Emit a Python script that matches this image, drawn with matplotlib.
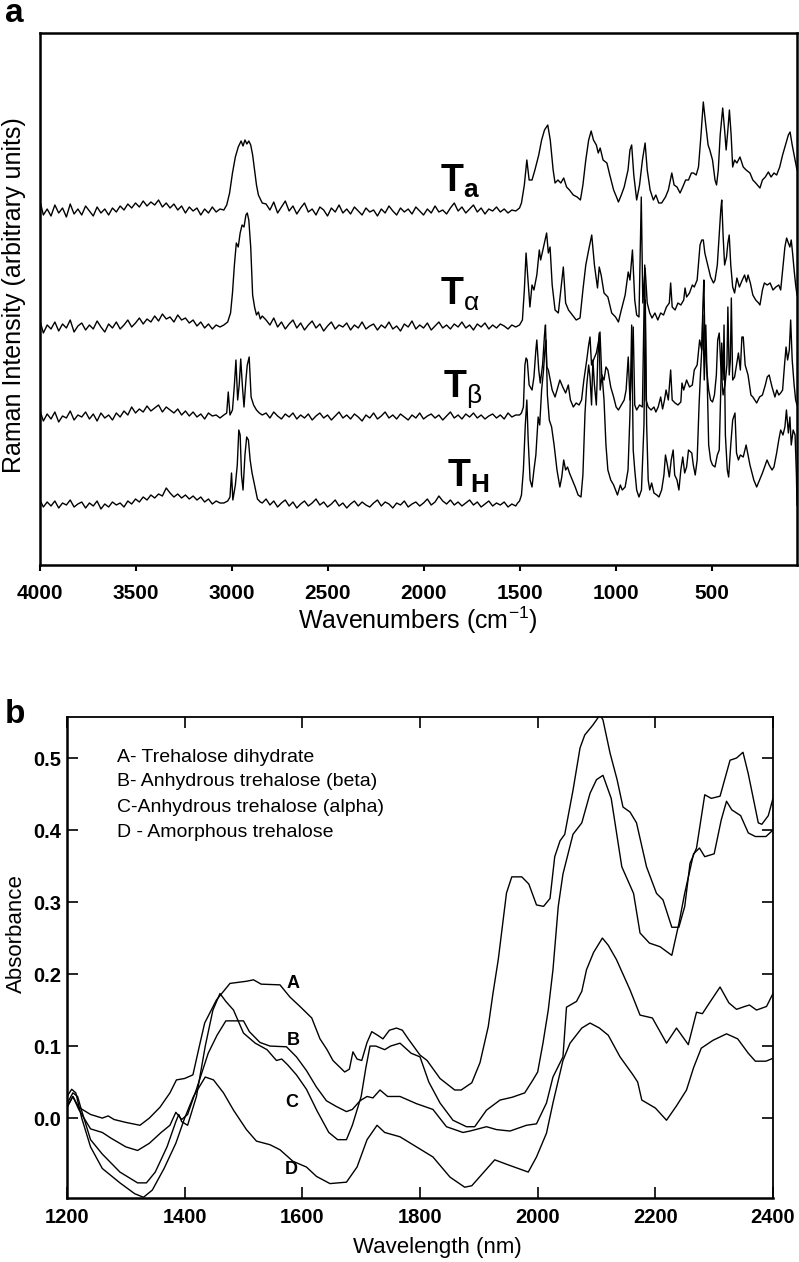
import matplotlib
matplotlib.use('Agg')
import matplotlib.pyplot as plt
import numpy as np

plt.rcParams['font.family'] = ['Liberation Sans', 'DejaVu Sans']
plt.rcParams['mathtext.fontset'] = 'custom'
plt.rcParams['mathtext.rm'] = 'Liberation Sans'
plt.rcParams['mathtext.bf'] = 'Liberation Sans:bold'
plt.rcParams['mathtext.it'] = 'Liberation Sans:italic'

# ---------------- panel a: Raman spectra (arbitrary units) ----------------
# noisy baseline 4000 -> 3060 cm-1, every 20 cm-1
ta_s1 = [366, 350, 356, 349, 360, 352, 357, 348, 361, 351,
         356, 350, 359, 354, 349, 358, 352, 356, 350, 357,
         353, 359, 355, 361, 357, 362, 358, 364, 359, 363,
         360, 365, 358, 362, 357, 361, 355, 359, 352, 358,
         354, 357, 350, 356, 352, 358, 353, 356]
talpha_s1 = [246, 232, 240, 236, 243, 234, 241, 237, 245, 233,
             239, 242, 235, 240, 236, 244, 238, 233, 241, 237,
             243, 236, 240, 245, 238, 242, 247, 241, 246, 243,
             249, 244, 251, 246, 248, 243, 250, 245, 247, 242,
             245, 239, 243, 237, 241, 236, 240, 238]
tbeta_s1 = [156, 144, 151, 146, 153, 143, 149, 147, 154, 145,
            150, 148, 153, 146, 151, 144, 152, 147, 150, 145,
            152, 148, 154, 150, 158, 152, 156, 153, 159, 154,
            157, 160, 153, 158, 155, 152, 156, 150, 154, 149,
            153, 148, 151, 146, 152, 149, 150, 147]
th_s1 = [66, 58, 63, 59, 64, 57, 62, 60, 65, 58,
         61, 63, 57, 62, 59, 64, 56, 61, 58, 63,
         60, 62, 58, 64, 61, 66, 63, 68, 65, 70,
         67, 71, 69, 77, 72, 68, 71, 67, 70, 66,
         69, 65, 68, 63, 66, 61, 64, 62]

# C-H stretch region (wavenumber, intensity)
ta_ch = [(3040, 355), (3025, 360), (3010, 372), (2995, 392), (2980, 408),
         (2965, 418), (2950, 424), (2940, 419), (2930, 425), (2920, 421),
         (2910, 424), (2900, 420), (2890, 410), (2880, 395), (2870, 380),
         (2860, 370), (2850, 366), (2840, 362)]
talpha_ch = [(3040, 240), (3020, 243), (3005, 252), (2995, 272), (2985, 300),
             (2975, 322), (2965, 318), (2955, 332), (2945, 340), (2935, 338),
             (2925, 350), (2918, 352), (2910, 345), (2900, 318), (2890, 270),
             (2880, 258), (2870, 250), (2860, 253), (2850, 246), (2840, 249)]
tbeta_ch = [(3040, 150), (3025, 152), (3017, 173), (3008, 150), (2995, 155),
            (2985, 180), (2977, 205), (2968, 165), (2960, 180), (2952, 206),
            (2943, 178), (2935, 158), (2925, 185), (2918, 200), (2908, 208),
            (2898, 168), (2885, 160), (2870, 155), (2855, 152), (2840, 150)]
th_ch = [(3040, 62), (3020, 64), (3008, 68), (3000, 92), (2993, 65),
         (2980, 80), (2970, 100), (2962, 135), (2955, 130), (2948, 90),
         (2940, 75), (2930, 110), (2921, 128), (2912, 125), (2903, 105),
         (2893, 92), (2880, 80), (2865, 66), (2850, 63), (2840, 62)]

# noisy baseline 2820 -> 1520 cm-1, every 20 cm-1
ta_s3 = [361, 355, 363, 352, 358, 364, 354, 359, 351, 357,
         362, 353, 356, 350, 358, 355, 349, 357, 353, 360,
         352, 356, 351, 358, 354, 350, 357, 353, 355, 349,
         356, 352, 359, 354, 350, 357, 353, 356, 351, 358,
         354, 350, 356, 352, 359, 353, 355, 351, 357, 362,
         354, 358, 352, 356, 360, 353, 357, 351, 356, 354,
         358, 353, 356, 352, 355, 354]
talpha_s3 = [245, 240, 247, 238, 243, 236, 241, 245, 237, 242,
             235, 240, 244, 237, 241, 234, 239, 243, 236, 240,
             238, 242, 235, 240, 237, 243, 236, 239, 241, 235,
             240, 237, 243, 236, 239, 234, 241, 238, 244, 236,
             240, 237, 242, 235, 239, 243, 237, 240, 236, 241,
             238, 243, 237, 240, 235, 241, 238, 242, 236, 240,
             237, 241, 239, 236, 240, 238]
tbeta_s3 = [152, 147, 153, 149, 146, 151, 148, 152, 146, 150,
            147, 151, 145, 149, 152, 147, 150, 145, 149, 153,
            147, 150, 146, 151, 148, 144, 150, 147, 152, 146,
            149, 153, 147, 150, 146, 151, 148, 145, 150, 147,
            152, 146, 149, 151, 147, 150, 145, 149, 153, 147,
            150, 146, 151, 148, 152, 147, 150, 146, 149, 151,
            147, 150, 146, 152, 148, 150]
th_s3 = [66, 60, 64, 58, 62, 65, 59, 63, 57, 61,
         64, 59, 62, 66, 60, 63, 58, 61, 65, 59,
         62, 57, 61, 64, 59, 63, 60, 58, 62, 65,
         59, 63, 61, 57, 62, 60, 64, 58, 61, 63,
         59, 62, 66, 60, 63, 69, 64, 61, 65, 60,
         63, 59, 62, 65, 60, 63, 58, 61, 64, 59,
         62, 60, 63, 58, 61, 59]

# fingerprint region (wavenumber, intensity)
ta_fp = [(1500, 357), (1490, 362), (1475, 380), (1462, 405), (1450, 385),
         (1435, 385), (1420, 395), (1400, 410), (1385, 425), (1370, 435),
         (1353, 440), (1340, 425), (1325, 395), (1315, 382), (1300, 385),
         (1285, 382), (1270, 387), (1255, 378), (1240, 375), (1220, 370),
         (1200, 368), (1183, 365), (1170, 380), (1155, 405), (1140, 425),
         (1127, 434), (1115, 425), (1100, 420), (1090, 412), (1080, 417),
         (1065, 405), (1045, 402), (1030, 390), (1010, 375), (995, 368),
         (985, 363), (970, 370), (955, 378), (935, 395), (925, 415),
         (916, 420), (905, 390), (890, 365), (875, 380), (860, 405),
         (846, 422), (835, 395), (820, 375), (803, 365), (790, 370),
         (775, 362), (760, 362), (740, 368), (725, 375), (707, 392),
         (695, 380), (680, 378), (664, 372), (650, 378), (635, 385),
         (620, 385), (605, 392), (594, 392), (580, 390), (568, 398),
         (555, 430), (543, 463), (530, 440), (518, 420), (509, 415),
         (495, 405), (482, 385), (474, 380), (465, 395), (455, 430),
         (442, 457), (432, 435), (424, 415), (415, 435), (407, 455),
         (398, 430), (390, 398), (380, 405), (368, 402), (352, 408),
         (335, 398), (320, 395), (300, 392), (285, 385), (270, 382),
         (248, 377), (235, 385), (220, 388), (204, 393), (190, 388),
         (175, 392), (161, 390), (145, 398), (130, 410), (115, 420),
         (100, 430), (91, 433), (80, 420), (70, 410), (60, 400), (55, 395)]
talpha_fp = [(1500, 240), (1485, 245), (1475, 275), (1466, 312), (1458, 290),
             (1446, 258), (1435, 280), (1425, 275), (1410, 290), (1397, 315),
             (1390, 305), (1375, 318), (1359, 332), (1350, 312), (1341, 318),
             (1330, 280), (1315, 255), (1298, 252), (1285, 275), (1272, 298),
             (1260, 262), (1245, 255), (1225, 250), (1205, 245), (1185, 247),
             (1170, 275), (1155, 300), (1140, 315), (1124, 330), (1110, 300),
             (1094, 277), (1085, 298), (1075, 290), (1060, 272), (1040, 268),
             (1020, 252), (1000, 248), (985, 243), (970, 255), (950, 270),
             (934, 293), (925, 285), (912, 315), (900, 265), (890, 250),
             (878, 248), (866, 368), (858, 262), (846, 297), (835, 262),
             (822, 252), (810, 247), (795, 252), (780, 245), (765, 252),
             (750, 250), (735, 258), (720, 262), (713, 282), (705, 258),
             (690, 255), (675, 262), (660, 260), (645, 265), (638, 277),
             (630, 268), (615, 272), (600, 280), (590, 278), (575, 285),
             (560, 320), (551, 325), (543, 325), (535, 312), (520, 300),
             (505, 288), (490, 282), (482, 285), (470, 300), (460, 330),
             (452, 355), (447, 365), (440, 330), (432, 300), (422, 308),
             (415, 322), (408, 330), (400, 300), (390, 278), (380, 272),
             (368, 287), (355, 278), (340, 285), (328, 290), (318, 283),
             (310, 290), (298, 282), (285, 270), (270, 265), (255, 262),
             (248, 260), (235, 275), (225, 282), (210, 280), (195, 282),
             (180, 275), (165, 278), (150, 280), (140, 275), (126, 302),
             (118, 318), (109, 327), (100, 322), (92, 318), (85, 325),
             (78, 312), (70, 295), (62, 280), (55, 270)]
tbeta_fp = [(1500, 150), (1490, 152), (1480, 158), (1472, 200), (1466, 207),
            (1460, 205), (1450, 180), (1435, 175), (1425, 188), (1415, 215),
            (1410, 225), (1400, 195), (1392, 182), (1380, 200), (1370, 230),
            (1365, 240), (1358, 198), (1350, 195), (1340, 185), (1330, 175),
            (1315, 168), (1300, 178), (1290, 185), (1275, 178), (1260, 172),
            (1246, 180), (1235, 165), (1220, 158), (1205, 162), (1190, 160),
            (1177, 165), (1165, 185), (1150, 205), (1140, 220), (1133, 228),
            (1125, 200), (1115, 205), (1100, 212), (1090, 222), (1081, 233),
            (1072, 190), (1060, 185), (1050, 198), (1040, 195), (1025, 178),
            (1010, 168), (997, 158), (985, 155), (970, 160), (955, 165),
            (945, 175), (934, 208), (925, 165), (915, 200), (908, 238),
            (900, 160), (890, 155), (875, 160), (860, 158), (848, 300),
            (841, 165), (830, 158), (815, 155), (800, 158), (790, 153),
            (778, 158), (765, 168), (755, 156), (745, 165), (737, 175),
            (725, 165), (713, 195), (705, 165), (690, 162), (675, 160),
            (660, 163), (654, 182), (645, 175), (630, 185), (615, 178),
            (600, 180), (590, 195), (575, 200), (562, 225), (551, 215),
            (545, 260), (540, 285), (535, 225), (525, 195), (515, 175),
            (505, 165), (495, 163), (485, 170), (475, 190), (468, 225),
            (460, 232), (452, 200), (440, 170), (430, 180), (420, 200),
            (415, 258), (408, 190), (402, 205), (397, 267), (390, 185),
            (380, 188), (370, 200), (360, 212), (350, 195), (342, 228),
            (335, 228), (325, 200), (310, 190), (295, 170), (285, 168),
            (275, 165), (265, 162), (250, 168), (235, 170), (220, 180),
            (210, 188), (200, 190), (185, 178), (170, 168), (160, 175),
            (150, 170), (140, 172), (130, 175), (120, 200), (112, 218),
            (104, 205), (95, 215), (88, 245), (80, 205), (70, 180),
            (62, 165), (55, 160)]
th_fp = [(1510, 62), (1500, 64), (1490, 70), (1480, 95), (1470, 140),
         (1462, 165), (1455, 125), (1445, 85), (1435, 78), (1425, 95),
         (1415, 110), (1403, 148), (1395, 140), (1385, 175), (1375, 195),
         (1368, 215), (1362, 225), (1355, 170), (1345, 145), (1333, 138),
         (1320, 120), (1305, 95), (1290, 78), (1280, 88), (1270, 105),
         (1260, 95), (1250, 98), (1240, 92), (1225, 85), (1210, 78),
         (1195, 70), (1180, 68), (1170, 90), (1159, 152), (1150, 180),
         (1140, 200), (1133, 188), (1125, 160), (1118, 205), (1110, 180),
         (1100, 160), (1092, 210), (1085, 232), (1080, 175), (1070, 190),
         (1060, 165), (1050, 120), (1040, 95), (1025, 85), (1010, 80),
         (1000, 75), (990, 70), (975, 80), (965, 75), (950, 78),
         (935, 95), (925, 150), (916, 240), (908, 115), (900, 95),
         (890, 75), (878, 68), (865, 75), (852, 140), (845, 265),
         (838, 140), (830, 85), (822, 75), (812, 82), (800, 72),
         (785, 70), (774, 68), (760, 75), (748, 90), (740, 110),
         (730, 100), (720, 88), (710, 105), (700, 115), (692, 90),
         (680, 85), (670, 75), (660, 95), (650, 108), (640, 92),
         (630, 98), (620, 115), (603, 112), (595, 100), (585, 90),
         (575, 105), (565, 160), (558, 190), (551, 215), (545, 250),
         (538, 185), (530, 240), (522, 180), (515, 120), (505, 105),
         (495, 100), (482, 98), (470, 110), (460, 115), (452, 175),
         (447, 222), (440, 185), (435, 240), (428, 130), (418, 95),
         (411, 88), (400, 120), (390, 145), (378, 152), (370, 112),
         (360, 105), (350, 110), (335, 108), (320, 120), (300, 100),
         (280, 85), (265, 78), (250, 85), (235, 92), (220, 100),
         (211, 105), (200, 100), (185, 95), (175, 98), (161, 112),
         (150, 125), (140, 135), (128, 130), (118, 138), (110, 155),
         (100, 132), (92, 148), (85, 120), (75, 135), (65, 130),
         (58, 90), (55, 60)]

raman_labels = [r'$\mathbf{T}_{\mathbf{a}}$', r'$\mathbf{T}_{\mathrm{\alpha}}$',
                r'$\mathbf{T}_{\mathrm{\beta}}$', r'$\mathbf{T}_{\mathbf{H}}$']
raman_label_pos = [(1914, 373), (1914, 260), (1898, 168), (1878, 78)]
raman_ticks = [4000, 3500, 3000, 2500, 2000, 1500, 1000, 500]

# ---------------- panel b: NIR absorbance ----------------
curve_a = [(1200, 0.015), (1210, 0.03), (1220, 0.015), (1240, 0.005), (1260, 0.0),
           (1270, 0.003), (1280, -0.002), (1300, -0.006), (1324, -0.01), (1340, 0.0),
           (1358, 0.015), (1375, 0.035), (1386, 0.053), (1400, 0.055), (1414, 0.06),
           (1425, 0.1), (1434, 0.132), (1454, 0.164), (1477, 0.187), (1505, 0.19),
           (1517, 0.192), (1530, 0.186), (1562, 0.185), (1579, 0.168), (1596, 0.155),
           (1616, 0.139), (1630, 0.11), (1642, 0.095), (1652, 0.08), (1672, 0.064),
           (1680, 0.068), (1686, 0.092), (1693, 0.082), (1701, 0.08), (1710, 0.105),
           (1718, 0.12), (1728, 0.115), (1737, 0.11), (1748, 0.122), (1760, 0.125),
           (1770, 0.122), (1780, 0.11), (1800, 0.0875), (1812, 0.08), (1834, 0.055),
           (1859, 0.039), (1870, 0.039), (1888, 0.049), (1902, 0.077), (1916, 0.127),
           (1924, 0.173), (1933, 0.22), (1947, 0.3125), (1956, 0.335), (1973, 0.335),
           (1985, 0.325), (1998, 0.296), (2010, 0.294), (2021, 0.305), (2029, 0.363),
           (2038, 0.385), (2046, 0.394), (2060, 0.455), (2072, 0.514), (2080, 0.532),
           (2094, 0.546), (2106, 0.56), (2111, 0.553), (2123, 0.507), (2135, 0.47),
           (2145, 0.432), (2157, 0.425), (2168, 0.41), (2185, 0.349), (2202, 0.312),
           (2213, 0.303), (2228, 0.265), (2240, 0.265), (2250, 0.294), (2259, 0.354),
           (2270, 0.375), (2284, 0.449), (2295, 0.444), (2310, 0.447), (2327, 0.497),
           (2338, 0.5), (2349, 0.508), (2358, 0.478), (2375, 0.41), (2381, 0.408),
           (2392, 0.42), (2400, 0.444)]
curve_b = [(1200, 0.015), (1210, 0.03), (1220, 0.012), (1240, -0.015), (1260, -0.02),
           (1275, -0.028), (1300, -0.04), (1320, -0.045), (1340, -0.035), (1360, -0.02),
           (1375, -0.01), (1385, 0.008), (1395, -0.002), (1405, 0.005), (1420, 0.04),
           (1440, 0.09), (1455, 0.115), (1470, 0.135), (1500, 0.135), (1510, 0.12),
           (1528, 0.105), (1545, 0.1), (1573, 0.099), (1590, 0.085), (1607, 0.066),
           (1624, 0.043), (1641, 0.024), (1658, 0.016), (1675, 0.009), (1685, 0.012),
           (1698, 0.024), (1710, 0.03), (1720, 0.028), (1732, 0.039), (1745, 0.03),
           (1766, 0.03), (1794, 0.02), (1822, 0.012), (1845, -0.012), (1873, -0.02),
           (1885, -0.018), (1913, -0.012), (1930, -0.016), (1953, -0.018), (1981, -0.01),
           (1998, -0.008), (2015, 0.021), (2026, 0.057), (2043, 0.085), (2049, 0.154),
           (2066, 0.162), (2075, 0.176), (2083, 0.206), (2095, 0.23), (2110, 0.25),
           (2120, 0.24), (2134, 0.22), (2157, 0.178), (2174, 0.143), (2195, 0.139),
           (2219, 0.104), (2236, 0.125), (2256, 0.102), (2270, 0.147), (2280, 0.145),
           (2292, 0.16), (2310, 0.182), (2325, 0.16), (2338, 0.151), (2352, 0.155),
           (2360, 0.157), (2372, 0.15), (2389, 0.155), (2400, 0.173)]
curve_c = [(1200, 0.02), (1210, 0.035), (1218, 0.03), (1225, 0.01), (1240, -0.03),
           (1260, -0.05), (1290, -0.075), (1320, -0.09), (1335, -0.09), (1350, -0.075),
           (1370, -0.04), (1385, -0.005), (1390, 0.005), (1395, -0.005), (1405, -0.01),
           (1420, 0.03), (1435, 0.1), (1448, 0.15), (1460, 0.173), (1470, 0.162),
           (1483, 0.15), (1500, 0.118), (1520, 0.104), (1540, 0.095), (1556, 0.08),
           (1565, 0.082), (1575, 0.074), (1590, 0.06), (1607, 0.04), (1625, 0.01),
           (1645, -0.02), (1660, -0.03), (1675, -0.03), (1685, -0.01), (1700, 0.03),
           (1708, 0.07), (1715, 0.1), (1725, 0.1), (1740, 0.095), (1750, 0.1),
           (1766, 0.104), (1785, 0.09), (1800, 0.085), (1815, 0.05), (1834, 0.021),
           (1856, -0.003), (1879, -0.012), (1893, -0.012), (1913, 0.011), (1936, 0.025),
           (1957, 0.029), (1978, 0.035), (1992, 0.053), (2000, 0.064), (2009, 0.104),
           (2018, 0.15), (2026, 0.206), (2035, 0.294), (2043, 0.339), (2060, 0.394),
           (2075, 0.41), (2089, 0.451), (2100, 0.47), (2111, 0.476), (2125, 0.444),
           (2143, 0.349), (2163, 0.312), (2174, 0.257), (2190, 0.243), (2208, 0.238),
           (2228, 0.226), (2240, 0.27), (2250, 0.3125), (2265, 0.367), (2275, 0.375),
           (2284, 0.363), (2300, 0.367), (2312, 0.414), (2321, 0.44), (2330, 0.428),
           (2345, 0.42), (2358, 0.396), (2370, 0.391), (2388, 0.391), (2400, 0.4)]
curve_d = [(1200, 0.03), (1208, 0.04), (1215, 0.035), (1225, 0.0), (1240, -0.04),
           (1260, -0.07), (1290, -0.09), (1315, -0.105), (1330, -0.11), (1345, -0.1),
           (1365, -0.07), (1385, -0.035), (1400, 0.0), (1415, 0.03), (1435, 0.057),
           (1449, 0.053), (1466, 0.035), (1483, 0.011), (1505, -0.016), (1522, -0.032),
           (1545, -0.037), (1562, -0.044), (1584, -0.06), (1607, -0.068), (1624, -0.081),
           (1647, -0.091), (1675, -0.089), (1693, -0.068), (1710, -0.03), (1727, -0.01),
           (1740, -0.02), (1766, -0.026), (1794, -0.04), (1822, -0.054), (1851, -0.082),
           (1876, -0.096), (1888, -0.094), (1927, -0.058), (1950, -0.065), (1984, -0.075),
           (1998, -0.054), (2015, -0.021), (2026, 0.021), (2043, 0.08), (2055, 0.104),
           (2075, 0.125), (2089, 0.132), (2105, 0.125), (2120, 0.115), (2140, 0.085),
           (2162, 0.06), (2170, 0.05), (2177, 0.025), (2200, 0.014), (2219, -0.003),
           (2236, 0.017), (2253, 0.039), (2265, 0.07), (2278, 0.097), (2298, 0.108),
           (2321, 0.117), (2340, 0.11), (2358, 0.09), (2370, 0.079), (2388, 0.079),
           (2400, 0.083)]

legend_lines = ['A- Trehalose dihydrate', 'B- Anhydrous trehalose (beta)',
                'C-Anhydrous trehalose (alpha)', 'D - Amorphous trehalose']
legend_y = [0.501, 0.467, 0.432, 0.397]
curve_names = ['A', 'B', 'C', 'D']
curve_label_pos = [(1584, 0.1875), (1584, 0.108), (1582, 0.021), (1582, -0.072)]


def raman_trace(s1, ch, s3, fp):
    ch = np.array(ch, dtype=float)
    fp = np.array(fp, dtype=float)
    wn = np.concatenate([4000 - 20 * np.arange(len(s1)), ch[:, 0],
                         2820 - 20 * np.arange(len(s3)), fp[:, 0]])
    inten = np.concatenate([s1, ch[:, 1], s3, fp[:, 1]])
    return wn, inten


W, H = 799, 1262
fig = plt.figure(figsize=(W / 100, H / 100), dpi=100)

ax1 = fig.add_axes([39.5 / W, 1 - 565 / H, (797 - 39.5) / W, 532 / H])
traces = [(ta_s1, ta_ch, ta_s3, ta_fp),
          (talpha_s1, talpha_ch, talpha_s3, talpha_fp),
          (tbeta_s1, tbeta_ch, tbeta_s3, tbeta_fp),
          (th_s1, th_ch, th_s3, th_fp)]
for tr in traces:
    wn, inten = raman_trace(*tr)
    ax1.plot(wn, inten, color='black', lw=1.0)
for lab, (x, y) in zip(raman_labels, raman_label_pos):
    ax1.text(x, y, lab, fontsize=27, ha='left', va='baseline')

ax1.set_xlim(4000, 55)
ax1.set_ylim(0, 532)
ax1.set_xticks(raman_ticks)
ax1.set_xticklabels([str(t) for t in raman_ticks], fontweight='bold', fontsize=15)
ax1.set_yticks([])
ax1.tick_params(axis='x', direction='out', length=4, width=1.5, pad=10)
for s in ax1.spines.values():
    s.set_linewidth(1.8)

ax2 = fig.add_axes([67 / W, 1 - 1198 / H, 706 / W, 481 / H])
for c in [curve_a, curve_b, curve_c, curve_d]:
    c = np.array(c)
    ax2.plot(c[:, 0], c[:, 1], color='black', lw=1.0)
for txt, y in zip(legend_lines, legend_y):
    ax2.text(1285, y, txt, fontsize=14, ha='left', va='center')
for name, (x, y) in zip(curve_names, curve_label_pos):
    ax2.text(x, y, name, fontsize=13, fontweight='bold', ha='center', va='center')

ax2.set_xlim(1200, 2400)
ax2.set_ylim(-0.111, 0.557)
ax2.set_xticks([1200, 1400, 1600, 1800, 2000, 2200, 2400])
ax2.set_xticklabels(['1200', '1400', '1600', '1800', '2000', '2200', '2400'],
                    fontweight='bold', fontsize=14.5)
ax2.set_yticks([0.0, 0.1, 0.2, 0.3, 0.4, 0.5])
ax2.set_yticklabels(['0.0', '0.1', '0.2', '0.3', '0.4', '0.5'],
                    fontweight='bold', fontsize=14.5)
ax2.tick_params(direction='in', length=8, width=1.2, top=True, right=True)
ax2.tick_params(axis='x', pad=7)
ax2.tick_params(axis='y', pad=4)
for side, s in ax2.spines.items():
    s.set_linewidth(1.8 if side in ('left', 'bottom') else 1.3)

fig.text(418 / W, 1 - 620 / H, 'Wavenumbers (cm$^{-1}$)', fontsize=18,
         ha='center', va='center')
fig.text(14 / W, 1 - 295 / H, 'Raman Intensity (arbitrary units)', fontsize=18,
         rotation=90, ha='center', va='center')
fig.text(437 / W, 1 - 1248 / H, 'Wavelength (nm)', fontsize=16,
         ha='center', va='center')
fig.text(16 / W, 1 - 934 / H, 'Absorbance', fontsize=16, rotation=90,
         ha='center', va='center')
fig.text(5 / W, 1 - 22 / H, 'a', fontsize=24, fontweight='bold', va='baseline')
fig.text(5 / W, 1 - 723 / H, 'b', fontsize=24, fontweight='bold', va='baseline')

fig.savefig('out.png', dpi=100)
